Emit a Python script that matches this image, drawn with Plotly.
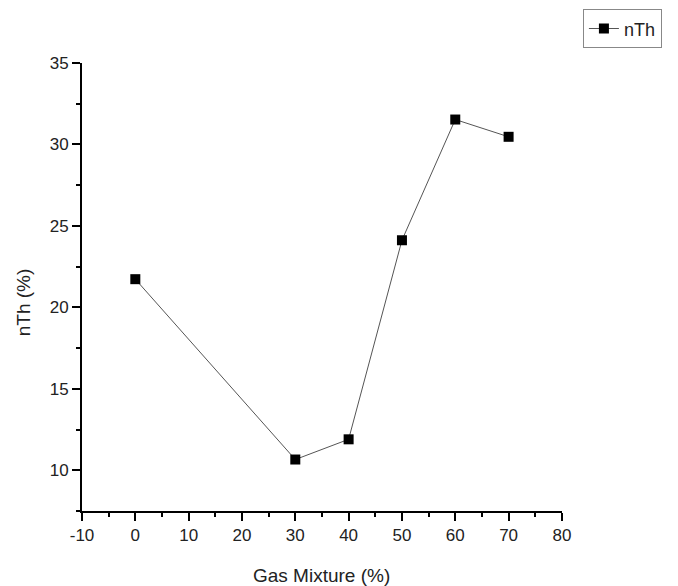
import plotly.graph_objects as go

gas_mixture = [0, 30, 40, 50, 60, 70]
nth_values = [21.73, 10.66, 11.9, 24.12, 31.53, 30.47]
series_name = "nTh"
x_title = "Gas Mixture (%)"
y_title = "nTh (%)"
x_tick_values = [-10, 0, 10, 20, 30, 40, 50, 60, 70, 80]
x_tick_labels = ["-10", "0", "10", "20", "30", "40", "50", "60", "70", "80"]

FONT = "Liberation Sans, Arial, sans-serif"

fig = go.Figure()
fig.add_trace(go.Scatter(
    x=gas_mixture, y=nth_values, name=series_name,
    mode="lines+markers",
    line=dict(color="#555555", width=1),
    marker=dict(symbol="square", size=10, color="black"),
))

axis_common = dict(
    showline=True, linecolor="black", linewidth=2,
    ticks="outside", ticklen=8, tickwidth=2, tickcolor="black",
    showgrid=False, zeroline=False,
    tickfont=dict(family=FONT, size=17, color="#222222"),
)

fig.update_layout(
    width=670, height=578,
    margin=dict(l=74, r=19, t=55, b=75),
    paper_bgcolor="white", plot_bgcolor="white",
    showlegend=True,
    legend=dict(
        xref="container", yref="container",
        x=0.976, y=0.964, xanchor="right", yanchor="middle",
        bordercolor="#888888", borderwidth=1,
        font=dict(family=FONT, size=18, color="#222222"),
        bgcolor="white",
    ),
    xaxis=dict(range=[-10, 80], tickvals=x_tick_values, ticktext=x_tick_labels,
               minor=dict(ticks="outside", ticklen=4, tickwidth=2, tickcolor="black", dtick=5, tick0=0, showgrid=False),
               **axis_common),
    yaxis=dict(range=[7.5, 35], dtick=5, tick0=0,
               minor=dict(ticks="outside", ticklen=4, tickwidth=2, tickcolor="black", dtick=2.5, tick0=0, showgrid=False),
               **axis_common),
    annotations=[
        dict(text=x_title, xref="paper", yref="paper", x=0.5, y=0, yshift=-64,
             xanchor="center", yanchor="middle", showarrow=False,
             font=dict(family=FONT, size=19, color="#222222")),
        dict(text=y_title, xref="paper", yref="paper", x=0, y=0.466, xshift=-59,
             xanchor="center", yanchor="middle", showarrow=False, textangle=-90,
             font=dict(family=FONT, size=19, color="#222222")),
    ],
)

fig.write_html("out.html")
